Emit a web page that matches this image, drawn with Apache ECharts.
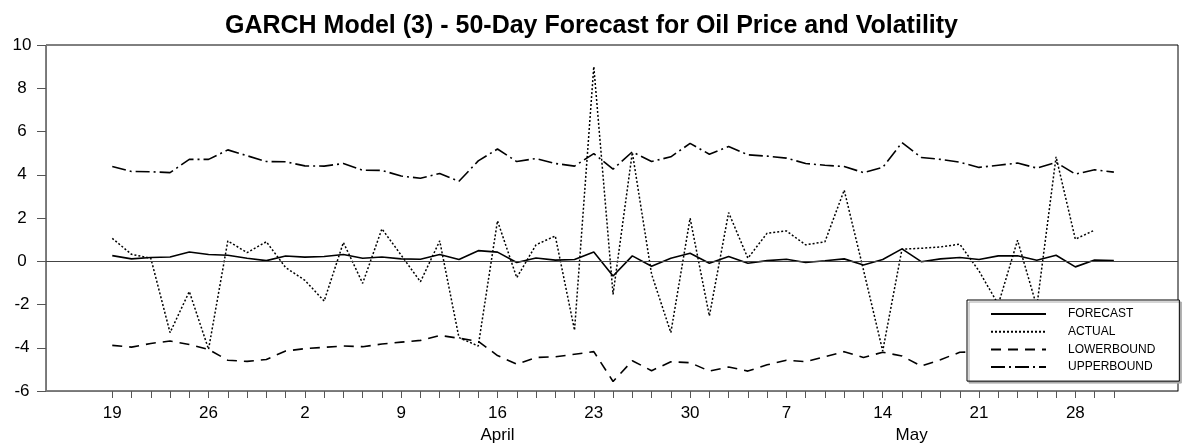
<!DOCTYPE html>
<html>
<head>
<meta charset="utf-8">
<script src="https://cdn.jsdelivr.net/npm/echarts@6/dist/echarts.min.js"></script>
<style>
  html, body { margin: 0; padding: 0; background: #fff; }
  #chart { width: 1183px; height: 447px; }
</style>
</head>
<body>
<div id="chart"></div>
<script>
// ---- data ----
const dates = ['03-19','03-20','03-21','03-22','03-23','03-26','03-27','03-28','03-29','03-30',
  '04-02','04-03','04-04','04-05','04-06','04-09','04-10','04-11','04-12','04-13',
  '04-16','04-17','04-18','04-19','04-20','04-23','04-24','04-25','04-26','04-27',
  '04-30','05-01','05-02','05-03','05-04','05-07','05-08','05-09','05-10','05-11',
  '05-14','05-15','05-16','05-17','05-18','05-21','05-22','05-23','05-24','05-25',
  '05-28','05-29','05-30'];

const forecast = [0.26,0.11,0.17,0.20,0.43,0.31,0.28,0.14,0.03,0.24,
  0.19,0.22,0.31,0.14,0.20,0.11,0.09,0.31,0.08,0.49,
  0.42,-0.06,0.15,0.05,0.08,0.43,-0.68,0.25,-0.23,0.14,
  0.37,-0.09,0.22,-0.09,0.03,0.09,-0.06,0.02,0.11,-0.17,
  0.08,0.57,-0.02,0.11,0.17,0.08,0.25,0.25,0.05,0.28,
  -0.26,0.06,0.03];

const actual = [1.06,0.32,0.14,-3.30,-1.40,-4.07,0.94,0.40,0.90,-0.29,
  -0.88,-1.84,0.87,-1.02,1.50,0.28,-0.95,0.94,-3.53,-3.92,
  1.87,-0.76,0.76,1.17,-3.19,9.00,-1.53,5.03,-0.60,-3.30,
  1.99,-2.53,2.25,0.14,1.30,1.40,0.76,0.90,3.29,-0.40,
  -4.15,0.56,0.60,0.66,0.79,-0.45,-2.00,0.97,-2.10,4.83,
  1.02,1.44];

const lowerbound = [-3.89,-3.97,-3.80,-3.69,-3.85,-4.08,-4.58,-4.63,-4.54,-4.15,
  -4.04,-3.98,-3.92,-3.95,-3.83,-3.74,-3.66,-3.43,-3.56,-3.70,
  -4.36,-4.76,-4.45,-4.42,-4.30,-4.18,-5.56,-4.60,-5.06,-4.65,
  -4.69,-5.08,-4.89,-5.08,-4.79,-4.58,-4.64,-4.41,-4.18,-4.45,
  -4.21,-4.38,-4.85,-4.55,-4.21,-4.18,-3.94,-4.04,-4.21,-4.01,
  -4.55,-4.11,-4.06];

const upperbound = [4.38,4.15,4.14,4.10,4.71,4.71,5.15,4.88,4.61,4.60,
  4.41,4.40,4.52,4.21,4.20,3.94,3.84,4.06,3.70,4.64,
  5.19,4.61,4.75,4.52,4.40,4.98,4.26,5.06,4.61,4.83,
  5.45,4.95,5.31,4.92,4.86,4.77,4.52,4.44,4.38,4.10,
  4.34,5.49,4.80,4.71,4.58,4.34,4.44,4.54,4.31,4.57,
  4.03,4.23,4.12];

const yTicks = [-6, -4, -2, 0, 2, 4, 6, 8, 10];
const labelEvery = 5;              // a day label every week (Mondays)
const monthLabels = [['04', 'April'], ['05', 'May']];
const seriesNames = ['FORECAST', 'ACTUAL', 'LOWERBOUND', 'UPPERBOUND'];
const titleText = 'GARCH Model (3) - 50-Day Forecast for Oil Price and Volatility';

// ---- derived ----
const idx = dates.map((d, i) => i);
const toPairs = arr => arr.map((v, i) => [i, v]);
const dayLabelValues = idx.filter(i => i % labelEvery === 0);
const monthPos = monthLabels.map(([m]) => {
  const ii = idx.filter(i => dates[i].slice(0, 2) === m);
  return (ii[0] + ii[ii.length - 1]) / 2;
});
const monthName = {};
monthPos.forEach((p, k) => { monthName[p] = monthLabels[k][1]; });

const FONT = 'Liberation Sans, Arial, sans-serif';
const xMin = -3.44, xMax = 55.33;

const chart = echarts.init(document.getElementById('chart'), null, { renderer: 'canvas' });
chart.setOption({
  animation: false,
  backgroundColor: '#fff',
  title: {
    text: titleText,
    left: 'center',
    top: 9,
    textStyle: { fontFamily: FONT, fontSize: 25, fontWeight: 'bold', color: '#000' }
  },
  grid: {
    left: 46, right: 5, top: 45, bottom: 56,
    show: true, borderColor: '#000', borderWidth: 1, backgroundColor: '#fff'
  },
  legend: {
    orient: 'vertical',
    left: 967, top: 300,
    data: seriesNames,
    itemWidth: 55, itemHeight: 14, itemGap: 5.7,
    padding: [8, 24, 8, 23],
    backgroundColor: '#fff',
    borderColor: '#000', borderWidth: 1,
    shadowColor: '#aaa', shadowOffsetX: 2, shadowOffsetY: 2, shadowBlur: 0,
    itemStyle: { opacity: 0 },
    textStyle: { fontFamily: FONT, fontSize: 12, color: '#000', padding: [0, 0, 0, 17] }
  },
  xAxis: [{
    type: 'value', min: xMin, max: xMax,
    splitLine: { show: false },
    axisLine: { show: true, onZero: false, lineStyle: { color: '#777', width: 1 } },
    axisTick: { show: true, inside: false, length: 7, customValues: idx, lineStyle: { color: '#555' } },
    axisLabel: {
      show: true, customValues: dayLabelValues, margin: 14,
      fontFamily: FONT, fontSize: 17, color: '#000',
      formatter: v => String(parseInt(dates[Math.round(v)].slice(3), 10))
    }
  }, {
    type: 'value', min: xMin, max: xMax, position: 'bottom', offset: 22,
    splitLine: { show: false },
    axisLine: { show: false, onZero: false },
    axisTick: { show: false },
    axisLabel: {
      show: true, customValues: monthPos, margin: 14,
      fontFamily: FONT, fontSize: 17, color: '#000',
      formatter: v => monthName[v] || ''
    }
  }],
  yAxis: {
    type: 'value', min: yTicks[0], max: yTicks[yTicks.length - 1], interval: 2,
    splitLine: { show: false },
    axisLine: { show: true, onZero: false, lineStyle: { color: '#777', width: 1 } },
    axisTick: { show: true, inside: false, length: 9, lineStyle: { color: '#555' } },
    axisLabel: { margin: 24, align: 'center', fontFamily: FONT, fontSize: 17, color: '#000' }
  },
  series: [{
    name: seriesNames[0], type: 'line', data: toPairs(forecast),
    symbol: 'none', showSymbol: false,
    lineStyle: { color: '#000', width: 1.6, type: 'solid' },
    itemStyle: { color: '#000' },
    markLine: {
      silent: true, symbol: ['none', 'none'], label: { show: false },
      lineStyle: { color: '#444', width: 1, type: 'solid' },
      data: [{ yAxis: 0 }]
    },
    z: 4
  }, {
    name: seriesNames[1], type: 'line', data: toPairs(actual),
    symbol: 'none', showSymbol: false,
    lineStyle: { color: '#000', width: 1.5, type: [2, 2] },
    itemStyle: { color: '#000' }, z: 3
  }, {
    name: seriesNames[2], type: 'line', data: toPairs(lowerbound),
    symbol: 'none', showSymbol: false,
    lineStyle: { color: '#000', width: 1.6, type: [10, 7] },
    itemStyle: { color: '#000' }, z: 3
  }, {
    name: seriesNames[3], type: 'line', data: toPairs(upperbound),
    symbol: 'none', showSymbol: false,
    lineStyle: { color: '#000', width: 1.6, type: [14, 4, 2, 4] },
    itemStyle: { color: '#000' }, z: 3
  }]
});
</script>
</body>
</html>
